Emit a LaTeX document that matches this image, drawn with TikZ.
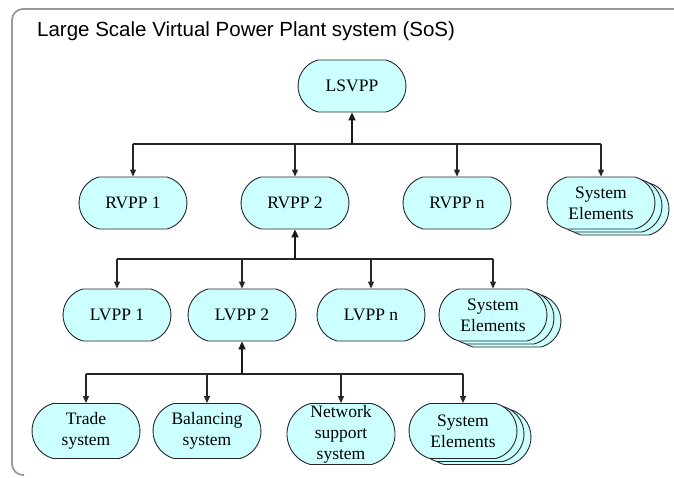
\documentclass[tikz,border=0pt]{standalone}
\usepackage{fontspec}
\setmainfont{Liberation Serif}
\newfontfamily\titlefont{Liberation Sans}
\usetikzlibrary{arrows.meta,shapes.misc}
\definecolor{boxfill}{HTML}{CCFFFF}
\definecolor{framegray}{HTML}{9A9A9A}

\begin{document}
\begin{tikzpicture}[x=1pt,y=-1pt,
  box/.style={rounded rectangle, rounded rectangle arc length=150,
    draw=black!85, line width=0.9pt, fill=boxfill,
    minimum width=108pt, minimum height=52pt, inner sep=0pt, align=center,
    font=\fontsize{17.5}{21}\selectfont},
  tallbox/.style={box, minimum height=55pt},
  link/.style={draw=black!85, line width=1.1pt, -{Triangle[length=7pt,width=6pt]}},
  bar/.style={draw=black!85, line width=1.3pt},
  trunk/.style={draw=black!90, line width=2.4pt, -{Triangle[length=8pt,width=7pt]}}]
\useasboundingbox (0,0) rectangle (674,477);

% outer frame of the system of systems
\draw[framegray, line width=1.8pt, rounded corners=11pt]
  (676,9) -- (12,9) -- (12,475) -- (24,475);
\node[anchor=west, font=\titlefont\fontsize{20.5}{24}\selectfont, inner sep=0pt]
  (title) at (37,31) {Large Scale Virtual Power Plant system (SoS)};

% top level
\node[box] (lsvpp) at (352,86) {LSVPP};

% regional plants
\node[box] (rvpp1) at (133,203) {RVPP 1};
\node[box] (rvpp2) at (295,203) {RVPP 2};
\node[box] (rvppn) at (457,203) {RVPP n};
\node[box] (se1c) at (615,209) {};
\node[box] (se1b) at (608,206) {};
\node[box] (se1) at (601,203) {System\\Elements};

% local plants
\node[box] (lvpp1) at (117,315) {LVPP 1};
\node[box] (lvpp2) at (242,315) {LVPP 2};
\node[box] (lvppn) at (371,315) {LVPP n};
\node[box] (se2c) at (507,321) {};
\node[box] (se2b) at (500,318) {};
\node[box] (se2) at (493,315) {System\\Elements};

% subsystems
\node[tallbox] (trade) at (86,431) {Trade\\system};
\node[tallbox] (bal) at (207,431) {Balancing\\system};
\node[box, minimum height=61pt] (net) at (341,434) {Network\\support\\system};
\node[tallbox] (se3c) at (477,437) {};
\node[tallbox] (se3b) at (470,434) {};
\node[tallbox] (se3) at (463,431) {System\\Elements};

% level 1 connectors
\coordinate (j1) at (352,144);
\draw[bar] (rvpp1.north |- j1) -- (se1.north |- j1);
\draw[trunk] (j1) -- (lsvpp.south);
\foreach \n in {rvpp1,rvpp2,rvppn,se1}
  \draw[link] (\n.north |- j1) -- (\n.north);

% level 2 connectors
\coordinate (j2) at (295,259);
\draw[bar] (lvpp1.north |- j2) -- (se2.north |- j2);
\draw[trunk] (j2) -- (rvpp2.south);
\foreach \n in {lvpp1,lvpp2,lvppn,se2}
  \draw[link] (\n.north |- j2) -- (\n.north);

% level 3 connectors
\coordinate (j3) at (242,374);
\draw[bar] (trade.north |- j3) -- (se3.north |- j3);
\draw[trunk] (j3) -- (lvpp2.south);
\foreach \n in {trade,bal,net,se3}
  \draw[link] (\n.north |- j3) -- (\n.north);
\end{tikzpicture}
\end{document}
